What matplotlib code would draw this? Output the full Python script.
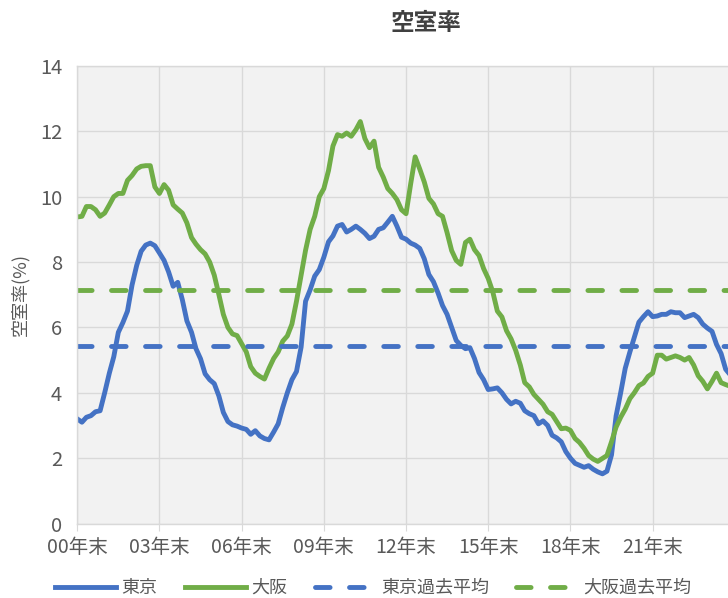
import pandas as pd
import matplotlib
matplotlib.use("Agg")
import matplotlib.pyplot as plt

plt.rcParams["font.family"] = ["Noto Sans CJK JP", "DejaVu Sans"]

# 2か月ごとの読み取り値 (2000年12月から)
dates = pd.date_range("2000-12-01", periods=144, freq="2MS")

tokyo = [
    3.2, 3.1, 3.25, 3.3, 3.42, 3.45, 4.0, 4.6, 5.1, 5.85, 6.15, 6.5,
    7.3, 7.9, 8.33, 8.52, 8.58, 8.5, 8.28, 8.05, 7.7, 7.26, 7.38, 6.85,
    6.2, 5.85, 5.35, 5.04, 4.58, 4.4, 4.28, 3.9, 3.4, 3.12, 3.02, 2.98,
    2.92, 2.88, 2.73, 2.84, 2.68, 2.6, 2.56, 2.8, 3.05, 3.55, 4.0, 4.4,
    4.65, 5.4, 6.8, 7.15, 7.57, 7.77, 8.15, 8.62, 8.8, 9.1, 9.15, 8.92,
    9.0, 9.1, 9.0, 8.88, 8.72, 8.79, 9.0, 9.05, 9.22, 9.4, 9.1, 8.76,
    8.7, 8.58, 8.52, 8.42, 8.1, 7.62, 7.4, 7.05, 6.67, 6.4, 6.0, 5.6,
    5.45, 5.35, 5.38, 5.05, 4.62, 4.4, 4.1, 4.12, 4.15, 4.0, 3.8, 3.66,
    3.74, 3.68, 3.45, 3.36, 3.3, 3.05, 3.14, 3.0, 2.7, 2.62, 2.5, 2.2,
    2.0, 1.84, 1.78, 1.72, 1.77, 1.66, 1.58, 1.52, 1.6, 2.1, 3.29, 4.0,
    4.75, 5.25, 5.7, 6.16, 6.33, 6.48, 6.33, 6.35, 6.4, 6.4, 6.48, 6.45,
    6.45, 6.3, 6.35, 6.4, 6.3, 6.1, 5.98, 5.88, 5.48, 5.2, 4.72, 4.55,
]

osaka = [
    9.38, 9.4, 9.7, 9.7, 9.6, 9.4, 9.5, 9.75, 10.0, 10.1, 10.1, 10.5,
    10.65, 10.85, 10.93, 10.95, 10.95, 10.3, 10.1, 10.37, 10.2, 9.75, 9.62, 9.5,
    9.2, 8.75, 8.55, 8.38, 8.25, 8.0, 7.6, 7.0, 6.4, 6.0, 5.8, 5.75,
    5.5, 5.25, 4.8, 4.6, 4.5, 4.42, 4.75, 5.05, 5.25, 5.58, 5.74, 6.1,
    6.8, 7.6, 8.36, 9.0, 9.4, 10.0, 10.25, 10.8, 11.55, 11.9, 11.85, 11.95,
    11.85, 12.05, 12.3, 11.78, 11.5, 11.7, 10.9, 10.6, 10.25, 10.1, 9.91, 9.6,
    9.48, 10.4, 11.22, 10.85, 10.45, 9.95, 9.78, 9.48, 9.4, 8.9, 8.35, 8.05,
    7.93, 8.6, 8.7, 8.38, 8.2, 7.8, 7.5, 7.08, 6.5, 6.32, 5.9, 5.65,
    5.3, 4.85, 4.31, 4.18, 3.95, 3.8, 3.65, 3.42, 3.34, 3.12, 2.9, 2.92,
    2.85, 2.6, 2.48, 2.3, 2.08, 1.97, 1.9, 1.99, 2.08, 2.5, 2.95, 3.25,
    3.5, 3.82, 4.0, 4.22, 4.3, 4.5, 4.6, 5.15, 5.15, 5.03, 5.08, 5.13,
    5.08, 5.0, 5.08, 4.85, 4.52, 4.35, 4.12, 4.35, 4.6, 4.31, 4.25, 4.2,
]

tokyo_avg = 5.42
osaka_avg = 7.15

tick_years = [2000, 2003, 2006, 2009, 2012, 2015, 2018, 2021]
tick_labels = ["00年末", "03年末", "06年末", "09年末", "12年末", "15年末", "18年末", "21年末"]

blue = "#4472C4"
green = "#70AD47"
text_color = "#595959"
grid_color = "#D9D9D9"

fig = plt.figure(figsize=(7.28, 5.98), dpi=100)
ax = fig.add_axes([77.3 / 728, 1 - 523.5 / 598, 1 - 77.3 / 728, (523.5 - 66) / 598])
ax.set_facecolor("#F2F2F2")

ax.plot(dates, tokyo, color=blue, lw=3.5, label="東京", solid_joinstyle="round")
ax.plot(dates, osaka, color=green, lw=3.5, label="大阪", solid_joinstyle="round")
ax.axhline(tokyo_avg, color=blue, lw=3.5, ls=(0, (3, 4)), dash_capstyle="round", label="東京過去平均")
ax.axhline(osaka_avg, color=green, lw=3.5, ls=(0, (3, 4)), dash_capstyle="round", label="大阪過去平均")

ax.set_ylim(0, 14)
ax.set_yticks(range(0, 15, 2))
ax.set_xlim(dates[0], pd.Timestamp("2024-09-01"))
ax.set_xticks(pd.to_datetime([f"{y}-12-01" for y in tick_years]))
ax.set_xticklabels(tick_labels)

ax.set_axisbelow(True)
ax.grid(color=grid_color, lw=1)
for side in ["left", "bottom", "top"]:
    ax.spines[side].set_color(grid_color)
    ax.spines[side].set_linewidth(1)
ax.spines["right"].set_visible(False)

ax.tick_params(axis="x", length=5, color=grid_color, pad=5, labelsize=14, labelcolor=text_color)
ax.tick_params(axis="y", length=0, pad=11, labelsize=14.5, labelcolor=text_color)

fig.text(426 / 728, 1 - 23 / 598, "空室率", ha="center", va="center",
         fontsize=17, fontweight="bold", color="#404040")
fig.text(20 / 728, 1 - 295 / 598, "空室率(%)", ha="center", va="center",
         rotation=90, fontsize=13, color=text_color)

fig.legend(loc="center", bbox_to_anchor=(373 / 728, 1 - 588 / 598), ncol=4, frameon=False,
           fontsize=13, handlelength=3.4, handletextpad=0.3, columnspacing=1.5,
           labelcolor=text_color)

fig.savefig("out.png", dpi=100)
